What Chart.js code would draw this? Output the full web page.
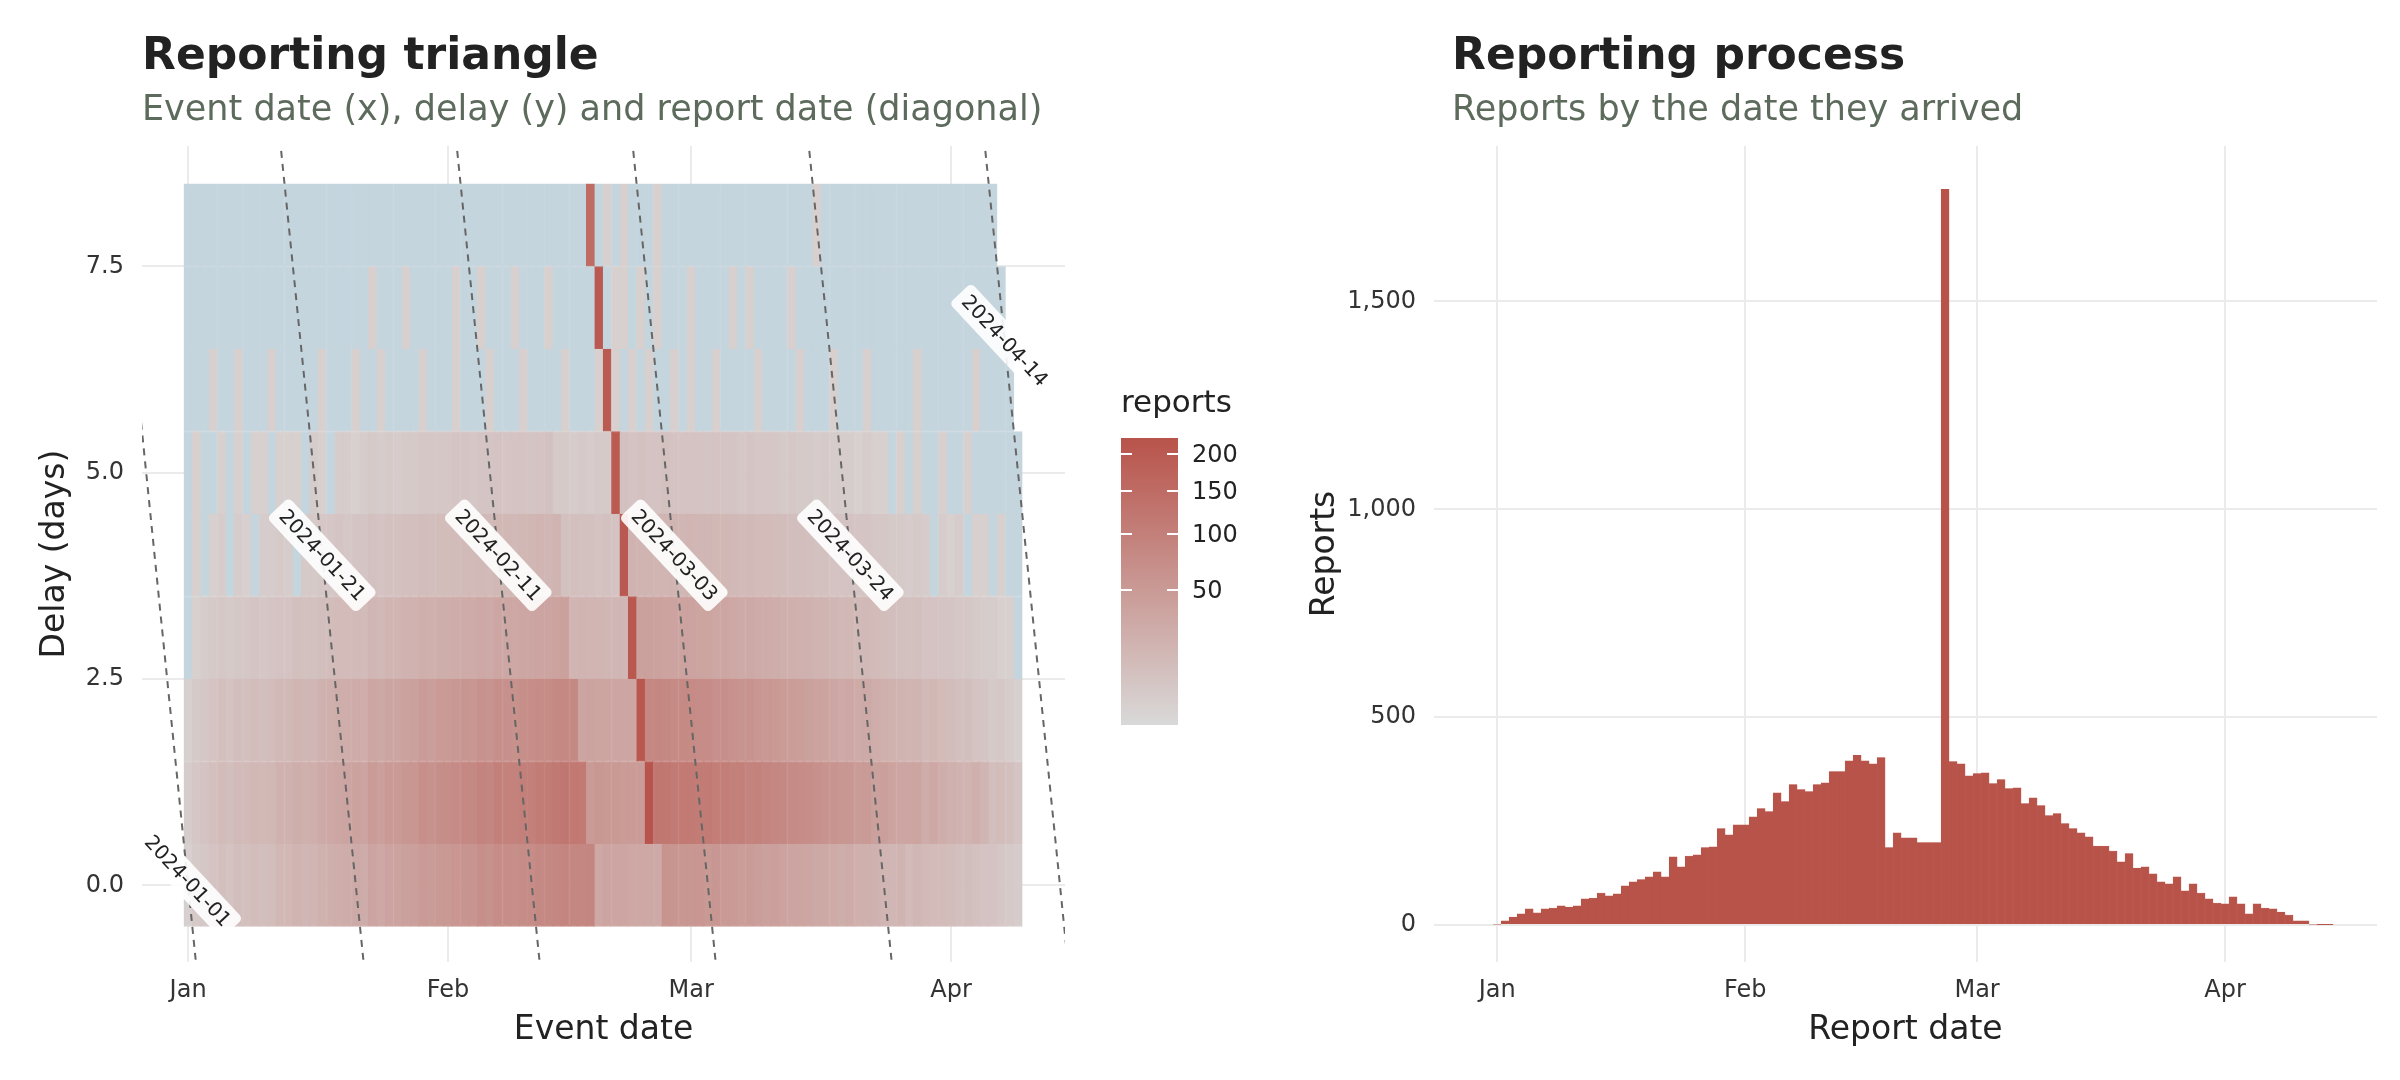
<!DOCTYPE html>
<html><head><meta charset="utf-8">
<script src="https://cdn.jsdelivr.net/npm/chart.js@4"></script>
<style>
body{margin:0;width:2400px;height:1080px;background:#fff;font-family:"DejaVu Sans",sans-serif;overflow:hidden;position:relative}
canvas{position:absolute;top:0}
.t{position:absolute;font-weight:bold;font-size:44px;color:#222}
.s{position:absolute;font-size:35px;color:#5d6b5d}
</style></head><body>
<canvas id="c1" width="1230" height="1080" style="left:0"></canvas>
<canvas id="c2" width="1170" height="1080" style="left:1230px"></canvas>
<div class="t" style="left:142px;top:28px">Reporting triangle</div>
<div class="s" style="left:142px;top:88px">Event date (x), delay (y) and report date (diagonal)</div>
<div class="t" style="left:1452px;top:28px">Reporting process</div>
<div class="s" style="left:1452px;top:88px">Reports by the date they arrived</div>
<div id="leg" style="position:absolute;left:1121px;top:383px;font-size:31px;color:#222">reports</div>
<div id="bar" style="position:absolute;left:1121px;top:438px;width:57px;height:287px;background:linear-gradient(to top,#d9d9d9,#b8534a)"></div>
<script>
// Month ticks (day index from 2024-01-01)
const monthTicks=[0,31,60,91];
const monthLabels=["Jan","Feb","Mar","Apr"];
// Reports by report date, 2024-01-01 .. 2024-04-14
const reportsByDay=[2,10,19,27,39,29,39,41,46,43,46,63,65,77,70,75,94,104,109,116,128,116,164,140,166,169,186,188,232,217,241,
241,260,280,273,318,297,338,326,321,338,342,369,369,395,408,395,388,403,
186,222,210,210,198,198,198,1770,
393,388,359,364,366,340,350,328,330,292,306,287,263,268,244,232,222,212,190,190,178,152,172,137,140,123,104,99,116,82,99,77,63,53,51,68,51,27,51,41,39,31,24,10,10,2,1,1];
// Reporting triangle: reports by event date (2024-01-01..2024-04-09) for each delay
const delay0=[1,3,4,6,8,6,9,8,10,9,10,14,14,17,15,16,20,22,24,25,28,25,35,30,36,37,40,41,50,47,52,
52,56,60,59,68,64,73,70,69,73,74,80,80,85,88,85,84,87,
30,35,32,32,30,30,30,28,60,58,55,
55,56,52,54,50,50,45,47,44,40,41,37,35,34,32,29,29,27,23,26,21,21,19,16,15,17,11,15,12,11,11,
10,8,9,7,6,6,4,3,2];
const delay1=[2,4,6,8,11,9,12,12,14,13,14,19,19,23,21,22,28,30,33,35,38,35,48,41,49,50,55,56,68,64,71,
71,76,82,80,92,87,99,95,94,99,101,108,108,115,120,116,114,
50,55,52,52,48,48,48,220,120,118,112,114,
112,108,110,104,104,98,100,92,95,88,84,80,76,73,70,66,62,60,55,54,46,50,40,41,37,32,32,34,25,30,24,
20,18,17,21,16,9,10,8,5];
const delay2=[1,3,4,6,8,6,9,8,10,9,10,13,13,16,15,15,19,21,23,24,26,24,33,29,34,35,38,39,47,44,49,
49,53,57,55,64,60,68,66,65,68,70,75,75,80,83,80,
35,36,34,34,32,32,32,215,85,84,80,77,78,
77,72,73,66,68,64,60,62,56,53,52,48,45,43,40,36,37,33,28,31,27,28,24,21,20,18,16,17,12,14,11,
10,8,9,6,5,3,4,2,1];
const delay3=[0,1,2,3,4,3,4,4,5,4,5,6,6,8,7,7,9,10,11,11,12,11,15,13,16,16,18,18,22,21,23,
23,25,27,26,30,28,32,31,30,32,33,35,35,37,39,
16,17,16,16,15,15,15,210,40,39,38,36,36,37,
36,34,34,31,32,30,28,29,26,25,24,22,21,20,19,17,17,15,13,14,12,13,11,10,9,8,7,8,6,6,5,
5,4,4,3,2,2,1,1,0];
const delay4=[0,1,0,1,2,0,2,1,0,2,2,3,2,0,3,3,4,4,5,4,5,5,7,6,7,7,8,8,10,9,10,
10,11,12,12,13,12,14,14,13,14,15,16,15,17,
7,8,7,7,6,7,6,205,18,17,17,16,16,16,15,
16,15,15,14,14,13,12,13,11,11,10,10,9,9,8,7,7,6,6,6,5,5,4,4,3,3,2,3,2,0,2,
1,2,0,1,1,0,1,0,0];
const delay5=[0,1,0,0,1,0,1,0,1,1,0,1,1,1,0,2,1,0,2,2,1,2,3,2,3,2,3,3,4,4,4,
4,5,5,4,5,5,6,5,6,6,5,6,7,
3,3,2,3,2,3,3,200,7,6,7,6,6,7,6,6,
6,6,5,6,5,5,4,5,4,4,4,3,4,3,3,2,3,2,2,2,1,2,1,1,0,1,0,1,0,0,1,
0,0,1,0,0,0,0,0,0];
const delay6=[0,0,0,1,0,0,1,0,0,0,1,0,0,0,0,0,1,0,0,0,1,0,0,1,0,0,0,0,1,0,0,
0,1,0,0,0,1,0,0,0,1,0,0,
0,0,1,0,0,0,1,200,1,0,1,0,1,0,0,1,0,
1,0,0,1,0,0,0,0,1,0,0,0,0,1,0,0,0,1,0,0,0,1,0,0,0,0,0,1,0,0,0,
0,0,0,1,0,0,0,0,null];
const delay7=[0,0,0,0,0,0,0,0,0,0,0,0,0,0,0,0,0,0,0,0,0,0,1,0,0,0,1,0,0,0,0,
0,1,0,0,1,0,0,0,1,0,0,
0,1,0,0,0,0,0,205,0,1,1,0,1,0,1,0,0,0,
1,0,0,0,0,1,0,1,0,0,0,0,1,0,0,0,0,0,0,0,0,0,0,0,0,0,0,0,0,0,0,
0,0,0,0,0,0,0,null,null];
const delay8=[0,0,0,0,0,0,0,0,0,0,0,0,0,0,0,0,0,0,0,0,0,0,0,0,0,0,0,0,0,0,0,
0,0,0,0,0,0,0,0,0,0,0,0,0,0,0,0,0,150,
0,1,0,1,0,0,0,1,0,0,0,
0,0,0,0,0,0,0,0,0,0,0,0,0,0,0,1,0,0,0,0,0,0,0,0,0,0,0,0,0,0,0,
0,0,0,0,0,0,null,null,null];
const delays=[delay0,delay1,delay2,delay3,delay4,delay5,delay6,delay7,delay8];
// Report-date diagonals
const diagDays=[0,20,41,62,83,104];
const diagLabels=["2024-01-01","2024-01-21","2024-02-11","2024-03-03","2024-03-24","2024-04-14"];
const diagLabelDelay=[0.05,4.0,4.0,4.0,4.0,6.6];
const legendTicks=[50,100,150,200];
const yTicksLeft=[0,2.5,5,7.5];
const yTicksRight=[0,500,1000,1500];

const VMAX=225;
function col(v){
  if(v===0) return '#c5d5de';
  const t=Math.min(1,Math.sqrt(v/VMAX));
  const a=[217,217,217],b=[184,83,74];
  return `rgb(${a.map((x,i)=>Math.round(x+(b[i]-x)*t)).join(',')})`;
}
Chart.defaults.font.family='"DejaVu Sans", sans-serif';
Chart.defaults.color='#333';
Chart.defaults.animation=false;
const grid={color:'#ebebeb',lineWidth:2,drawTicks:false,offset:false};

const datasets=delays.map((arr,d)=>{
  const data=[],bg=[];
  arr.forEach((v,i)=>{ if(v!==null){data.push({x:i,y:[d-0.5,d+0.5]});bg.push(col(v));} });
  return {type:'bar',data,backgroundColor:bg,borderColor:bg,borderWidth:1,borderSkipped:false,
    barPercentage:1,categoryPercentage:1,grouped:false};
});

const diagPlugin={id:'diag',afterDatasetsDraw(ch){
  const {ctx,chartArea:a,scales:{x,y}}=ch;
  ctx.save();
  ctx.beginPath();ctx.rect(a.left,a.top,a.right-a.left,a.bottom-a.top);ctx.clip();
  diagDays.forEach((R,k)=>{
    ctx.setLineDash([7,6]);ctx.strokeStyle='#666';ctx.lineWidth=2;
    ctx.beginPath();
    ctx.moveTo(x.getPixelForValue(R+2),y.getPixelForValue(-2));
    ctx.lineTo(x.getPixelForValue(R-10),y.getPixelForValue(10));
    ctx.stroke();
  });
  ctx.restore();
  ctx.save();
  diagDays.forEach((R,k)=>{
    const dl=diagLabelDelay[k];
    const px=x.getPixelForValue(R-dl),py=y.getPixelForValue(dl);
    ctx.save();ctx.translate(px,py);ctx.rotate(47*Math.PI/180);
    ctx.font='20px "DejaVu Sans"';
    const w=ctx.measureText(diagLabels[k]).width+14,h=30;
    ctx.setLineDash([]);
    ctx.fillStyle='rgba(255,255,255,0.9)';
    ctx.beginPath();ctx.roundRect(-w/2,-h/2,w,h,5);ctx.fill();
    ctx.fillStyle='#222';ctx.textAlign='center';ctx.textBaseline='middle';
    ctx.fillText(diagLabels[k],0,1);
    ctx.restore();
  });
  ctx.restore();
}};

new Chart(document.getElementById('c1'),{
  data:{datasets},
  plugins:[diagPlugin],
  options:{responsive:false,devicePixelRatio:1,
    layout:{padding:{top:146,right:165,left:0,bottom:0}},
    plugins:{legend:{display:false},tooltip:{enabled:false}},
    scales:{
      x:{type:'linear',offset:false,min:-5.5,max:104.6,grid,border:{display:false},
        afterBuildTicks(s){s.ticks=monthTicks.map(v=>({value:v}));},
        afterFit(s){s.height=118;},
        ticks:{font:{size:24},color:'#333',padding:14,callback:(v)=>monthLabels[monthTicks.indexOf(v)]},
        title:{display:true,text:'Event date',font:{size:33},color:'#222',padding:{top:4,bottom:30}}},
      y:{type:'linear',min:-0.93,max:8.96,grid,border:{display:false},
        afterBuildTicks(s){s.ticks=yTicksLeft.map(v=>({value:v}));},
        afterFit(s){s.width=142;},
        ticks:{font:{size:24},color:'#333',padding:18,callback:v=>v.toFixed(1)},
        title:{display:true,text:'Delay (days)',font:{size:33},color:'#222',padding:{top:36,bottom:0}}}
    }}
});

new Chart(document.getElementById('c2'),{
  type:'bar',
  data:{datasets:[{data:reportsByDay.map((v,i)=>({x:i,y:v})),backgroundColor:'#b8534a',
    borderColor:'#b8534a',borderWidth:0.5,barPercentage:1,categoryPercentage:1}]},
  options:{responsive:false,devicePixelRatio:1,
    layout:{padding:{top:146,right:23,left:0,bottom:0}},
    plugins:{legend:{display:false},tooltip:{enabled:false}},
    scales:{
      x:{type:'linear',offset:false,min:-7.9,max:110,grid,border:{display:false},
        afterBuildTicks(s){s.ticks=monthTicks.map(v=>({value:v}));},
        afterFit(s){s.height=118;},
        ticks:{font:{size:24},color:'#333',padding:14,callback:(v)=>monthLabels[monthTicks.indexOf(v)]},
        title:{display:true,text:'Report date',font:{size:33},color:'#222',padding:{top:4,bottom:30}}},
      y:{type:'linear',min:-89,max:1874,grid,border:{display:false},
        afterBuildTicks(s){s.ticks=yTicksRight.map(v=>({value:v}));},
        afterFit(s){s.width=204;},
        ticks:{font:{size:24},color:'#333',padding:18,callback:v=>v.toLocaleString('en-US')},
        title:{display:true,text:'Reports',font:{size:33},color:'#222',padding:{top:76,bottom:0}}}
    }}
});

// colourbar ticks
const bar=document.getElementById('bar');
legendTicks.forEach(v=>{
  const f=Math.sqrt(v/VMAX),top=287*(1-f);
  const m=document.createElement('div');
  m.style.cssText=`position:absolute;left:0;top:${top-1}px;width:57px;height:2px;background:linear-gradient(to right,#fff 0 11px,transparent 11px 46px,#fff 46px)`;
  bar.appendChild(m);
  const l=document.createElement('div');
  l.textContent=v;
  l.style.cssText=`position:absolute;left:1192px;top:${438+top-14}px;font-size:24px;color:#222`;
  document.body.appendChild(l);
});
</script></body></html>
